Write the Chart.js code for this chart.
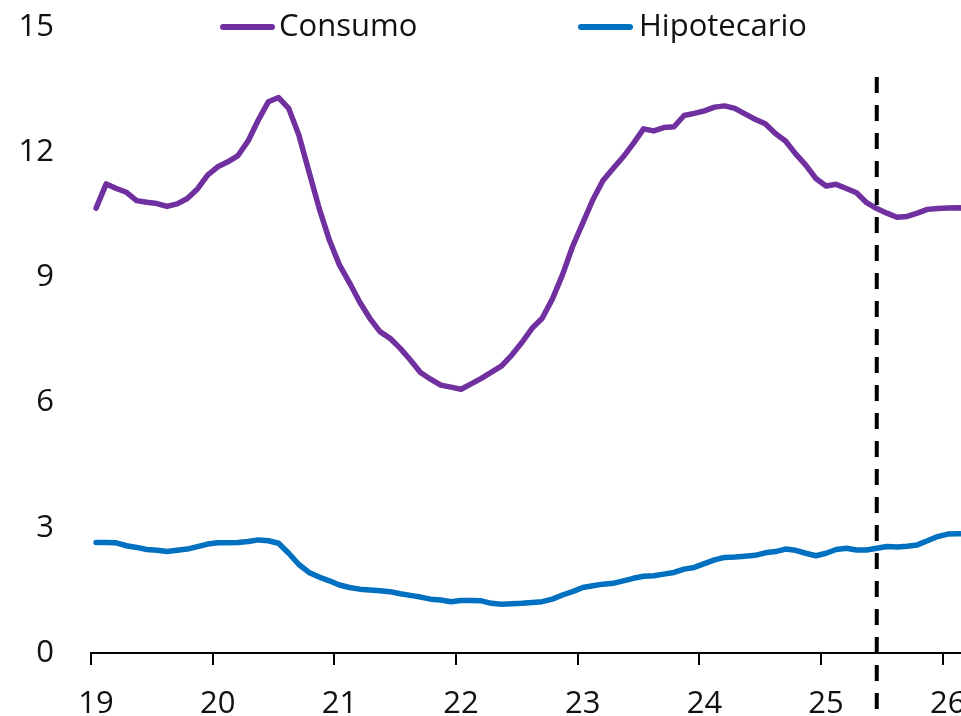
<!DOCTYPE html>
<html>
<head>
<meta charset="utf-8">
<script src="https://cdn.jsdelivr.net/npm/chart.js@4.4.1/dist/chart.umd.min.js"></script>
<style>
  html, body { margin: 0; padding: 0; background: #fff; }
  #wrap { position: relative; width: 961px; height: 716px; overflow: hidden; }
  #chart { position: absolute; left: 0; top: 0; }
  .lg { position: absolute; top: 0; height: 54px; font-family: "Open Sans", sans-serif; font-size: 31px; color: #111; }
  .lg .sw { position: absolute; top: 24px; width: 55px; height: 6px; border-radius: 3px; }
  .lg .tx { position: absolute; top: 9px; line-height: 31px; white-space: nowrap; }
</style>
</head>
<body>
<div id="wrap">
  <canvas id="chart" width="989" height="716"></canvas>
  <div class="lg" style="left:220px"><span class="sw" style="left:0;background:#7030A0"></span><span class="tx" style="left:59px">Consumo</span></div>
  <div class="lg" style="left:578px"><span class="sw" style="left:0;background:#0070C0"></span><span class="tx" style="left:61px">Hipotecario</span></div>
</div>
<script>
// ---- data ----
const years = [2019, 2020, 2021, 2022, 2023, 2024, 2025, 2026];
const yearLabels = ['19', '20', '21', '22', '23', '24', '25', '26'];
const monthsLastYear = 3; // Jan-Mar 2026
const categories = [];
years.forEach((y, yi) => {
  const nm = yi === years.length - 1 ? monthsLastYear : 12;
  for (let m = 1; m <= nm; m++) categories.push(y + '-' + String(m).padStart(2, '0'));
});

const consumo = [
  10.66, 11.24, 11.13, 11.04, 10.84, 10.80, 10.77, 10.70, 10.76, 10.89, 11.12, 11.45,
  11.65, 11.77, 11.92, 12.27, 12.77, 13.21, 13.31, 13.05, 12.41, 11.53, 10.66, 9.90,
  9.30, 8.87, 8.41, 8.02, 7.70, 7.54, 7.30, 7.02, 6.72, 6.56, 6.42, 6.37,
  6.32, 6.45, 6.58, 6.73, 6.88, 7.14, 7.44, 7.78, 8.02, 8.48, 9.06, 9.74,
  10.30, 10.86, 11.32, 11.61, 11.89, 12.21, 12.56, 12.51, 12.59, 12.61, 12.88, 12.93,
  12.99, 13.08, 13.11, 13.05, 12.92, 12.79, 12.68, 12.45, 12.27, 11.96, 11.69, 11.37,
  11.19, 11.23, 11.13, 11.03, 10.79, 10.65, 10.54, 10.44, 10.46, 10.54, 10.63, 10.65,
  10.66, 10.67, 10.66
];
const hipotecario = [
  2.65, 2.65, 2.64, 2.57, 2.53, 2.48, 2.46, 2.43, 2.46, 2.49, 2.55, 2.61,
  2.64, 2.64, 2.65, 2.67, 2.71, 2.69, 2.63, 2.39, 2.12, 1.93, 1.82, 1.73,
  1.63, 1.57, 1.53, 1.51, 1.49, 1.47, 1.42, 1.38, 1.34, 1.29, 1.27, 1.23,
  1.26, 1.26, 1.25, 1.19, 1.17, 1.18, 1.19, 1.21, 1.23, 1.29, 1.39, 1.47,
  1.57, 1.61, 1.65, 1.67, 1.73, 1.79, 1.84, 1.85, 1.89, 1.93, 2.01, 2.05,
  2.14, 2.23, 2.29, 2.30, 2.32, 2.34, 2.40, 2.43, 2.49, 2.46, 2.39, 2.33,
  2.39, 2.48, 2.51, 2.47, 2.47, 2.51, 2.55, 2.54, 2.56, 2.59, 2.69, 2.79,
  2.85, 2.86, 2.86
];
const yTicks = [0, 3, 6, 9, 12, 15];
const cutoffCategory = '2025-06';
const cutoffTop = 13.8;

// ---- styles ----
const FONT = { family: '"Open Sans", sans-serif', size: 31 };
const PURPLE = '#7030A0';
const BLUE = '#0070C0';

const cutoffPlugin = {
  id: 'cutoff',
  afterDatasetsDraw(chart) {
    const xs = chart.scales.x, ys = chart.scales.y;
    const x = xs.getPixelForValue(categories.indexOf(cutoffCategory));
    const ctx = chart.ctx;
    ctx.save();
    ctx.strokeStyle = '#000';
    ctx.lineWidth = 4;
    ctx.setLineDash([16, 12]);
    ctx.beginPath();
    ctx.moveTo(x, ys.getPixelForValue(cutoffTop));
    ctx.lineTo(x, chart.height);
    ctx.stroke();
    ctx.restore();
  }
};

new Chart(document.getElementById('chart'), {
  type: 'line',
  data: {
    labels: categories,
    datasets: [
      { label: 'Consumo', data: consumo, borderColor: PURPLE, backgroundColor: PURPLE,
        borderWidth: 5.5, pointRadius: 0, tension: 0, borderJoinStyle: 'round', borderCapStyle: 'round' },
      { label: 'Hipotecario', data: hipotecario, borderColor: BLUE, backgroundColor: BLUE,
        borderWidth: 5.5, pointRadius: 0, tension: 0, borderJoinStyle: 'round', borderCapStyle: 'round' }
    ]
  },
  options: {
    responsive: false,
    animation: false,
    devicePixelRatio: 1,
    layout: { padding: { top: 27, right: 0, bottom: 0, left: 0 } },
    plugins: { legend: { display: false }, tooltip: { enabled: false } },
    scales: {
      x: {
        type: 'category',
        offset: true,
        afterFit: s => { s.height = 63; },
        grid: {
          display: true, drawOnChartArea: false, drawTicks: true, offset: true, tickLength: 12,
          lineWidth: 2,
          color: c => (c.index % 12 === 0 ? '#000' : 'rgba(0,0,0,0)')
        },
        border: { display: true, color: '#000', width: 2 },
        ticks: {
          autoSkip: false, maxRotation: 0, minRotation: 0, padding: 21,
          color: '#111', font: FONT,
          callback: (v, i) => (i % 12 === 0 ? yearLabels[i / 12] : '')
        }
      },
      y: {
        min: 0, max: 15,
        afterFit: s => { s.width = 91; },
        afterBuildTicks: s => { s.ticks = yTicks.map(v => ({ value: v })); },
        grid: { display: false, drawTicks: true, tickLength: 37 },
        border: { display: false },
        ticks: { padding: 0, color: '#111', font: FONT }
      }
    }
  },
  plugins: [cutoffPlugin]
});
</script>
</body>
</html>
